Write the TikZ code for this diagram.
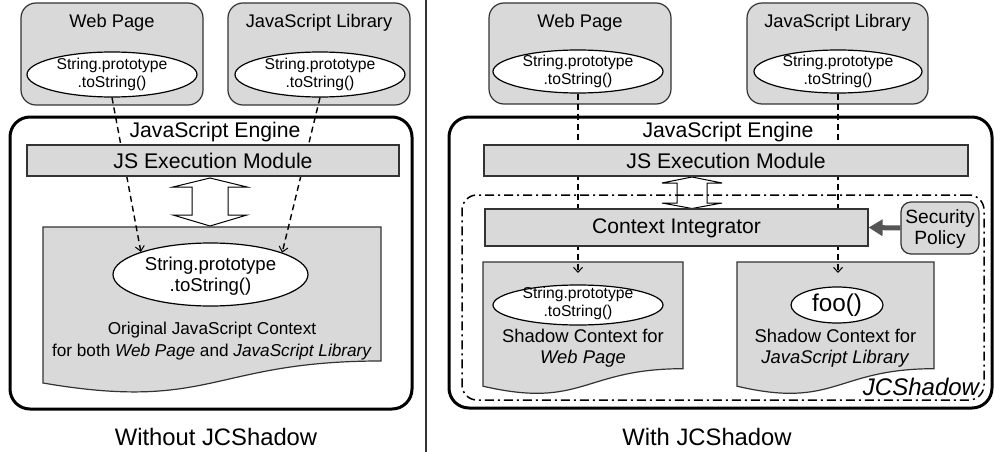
\documentclass[tikz,border=0pt]{standalone}
\usepackage{fontspec}
\setmainfont{Liberation Sans}
\usetikzlibrary{shapes.geometric,arrows.meta}
\definecolor{boxgray}{HTML}{D9D9D9}
\definecolor{edgec}{HTML}{333333}
\definecolor{heavyc}{HTML}{555555}
\begin{document}
\begin{tikzpicture}[x=1pt,y=-1pt,
  box/.style={draw=edgec, line width=1.2pt, fill=boxgray, rounded corners=15pt, inner sep=0pt},
  bar/.style={draw=edgec, line width=1.2pt, fill=boxgray, inner sep=0pt},
  ell/.style={ellipse, draw=black, line width=1.2pt, fill=white, inner sep=0pt},
  engine/.style={draw=black, line width=3pt, rounded corners=20pt, inner sep=0pt},
  docshape/.style={draw=edgec, line width=1.2pt, fill=boxgray},
  dblarrow/.style={draw=black, line width=1pt},
  dashconn/.style={draw=black, line width=1.4pt, dash pattern=on 6pt off 4pt},
  dashtip/.style={-{Straight Barb[length=5pt,width=9pt,line width=1pt]}},
  jcsbox/.style={draw=black, line width=1.5pt, dash pattern=on 9pt off 4pt on 2pt off 4pt, rounded corners=15pt, inner sep=0pt},
  txt/.style={inner sep=0pt, align=center, text=black},
  fTitle/.style={font=\fontsize{18.3}{21}\selectfont},
  fEngine/.style={font=\fontsize{21.2}{24}\selectfont},
  fModule/.style={font=\fontsize{21.2}{24}\selectfont},
  fEll/.style={font=\fontsize{15.7}{18}\selectfont},
  fBigEll/.style={font=\fontsize{18.6}{21}\selectfont},
  fCtx/.style={font=\fontsize{17.2}{22}\selectfont},
  fShadow/.style={font=\fontsize{18.4}{21}\selectfont},
  fSec/.style={font=\fontsize{19.2}{21}\selectfont},
  fCap/.style={font=\fontsize{23.8}{27}\selectfont},
]
\useasboundingbox (0,0) rectangle (994,452);

% ---------------- divider ----------------
\coordinate (divtop) at (426,0);
\coordinate (divbot) at (426,452);
\draw[edgec, line width=1.2pt] (divtop) -- (divbot);

% ================= LEFT PANEL =================
\node[box, minimum width=182pt, minimum height=102pt] (wp1) at (112,54) {};
\node[txt, fTitle] (wp1t) at (112,23) {Web Page};
\node[box, minimum width=182pt, minimum height=102pt] (jl1) at (319,54) {};
\node[txt, fTitle] (jl1t) at (319,23) {JavaScript Library};
\node[ell, minimum width=170pt, minimum height=45pt] (wp1e) at (112,74.5) {};
\node[txt, fEll] (wp1et) at (112,74.5) {String.prototype\\.toString()};
\node[ell, minimum width=170pt, minimum height=45pt] (jl1e) at (320,74.5) {};
\node[txt, fEll] (jl1et) at (320,74.5) {String.prototype\\.toString()};

\node[engine, minimum width=402pt, minimum height=292pt] (eng1) at (211,263) {};
\node[txt, fEngine] (eng1t) at (215,132) {JavaScript Engine};

\draw[dblarrow] (210,178) -- (247,187) -- (228,187) -- (228,215) -- (247,215) -- (210,226)
  -- (173,215) -- (192,215) -- (192,187) -- (173,187) -- cycle;

\draw[docshape] (43,227) -- (381,227) -- (381,361) .. controls (212,361) and (212,412) .. (43,383) -- cycle;
\node[ell, minimum width=195pt, minimum height=63pt] (bigell) at (210.5,274.5) {};
\node[txt, fBigEll] (bigellt) at (210.5,276) {String.prototype\\.toString()};
\node[txt, fCtx] (orig) at (212,341) {Original JavaScript Context\\for both \textit{Web Page} and \textit{JavaScript Library}};

\draw[dashconn, dashtip] (wp1e.south) -- (bigell.162);
\draw[dashconn, dashtip] (jl1e.south) -- (bigell.17);

\node[bar, minimum width=372pt, minimum height=31pt] (exec1) at (213,160.5) {};
\node[txt, fModule] (exec1t) at (213,161) {JS Execution Module};

\node[txt, fCap] (cap1) at (216,437) {Without JCShadow};

% ================= RIGHT PANEL =================
\node[box, minimum width=182pt, minimum height=101pt] (wp2) at (580,53.5) {};
\node[txt, fTitle] (wp2t) at (580,23) {Web Page};
\node[box, minimum width=181pt, minimum height=101pt] (jl2) at (837.5,53.5) {};
\node[txt, fTitle] (jl2t) at (837.5,23) {JavaScript Library};
\node[ell, minimum width=170pt, minimum height=43pt] (wp2e) at (578,71.5) {};
\node[txt, fEll] (wp2et) at (578,71.5) {String.prototype\\.toString()};
\node[ell, minimum width=168pt, minimum height=43pt] (jl2e) at (838,71.5) {};
\node[txt, fEll] (jl2et) at (838,71.5) {String.prototype\\.toString()};

\node[engine, minimum width=543pt, minimum height=291pt] (eng2) at (720.5,262.5) {};
\node[txt, fEngine] (eng2t) at (728,132) {JavaScript Engine};

\draw[dblarrow] (692,177) -- (722,183) -- (707,183) -- (707,203) -- (722,203) -- (692,208.5)
  -- (662,203) -- (677,203) -- (677,183) -- (662,183) -- cycle;

\node[jcsbox, minimum width=522pt, minimum height=205pt] (jcs) at (723,297.5) {};

\draw[docshape] (483,262) -- (683,262) -- (683,368.7) .. controls (583,368.7) and (583,409.3) .. (483,386.2) -- cycle;
\draw[docshape] (737,262) -- (934,262) -- (934,368.7) .. controls (835.5,368.7) and (835.5,409.3) .. (737,386.2) -- cycle;

\node[ell, minimum width=170pt, minimum height=40pt] (sell) at (578,305) {};
\node[txt, fEll] (sellt) at (578,303) {String.prototype\\.toString()};
\node[ell, minimum width=92pt, minimum height=36pt] (fooe) at (837,305) {};
\node[txt, font=\fontsize{24.3}{27}\selectfont] (fooet) at (837,305) {foo()};

\node[txt, fShadow] (shw) at (583,348.5) {Shadow Context for\\\textit{Web Page}};
\node[txt, fShadow] (shj) at (835.5,348.5) {Shadow Context for\\\textit{JavaScript Library}};
\node[txt, font=\fontsize{24}{27}\selectfont\itshape] (jcst) at (921,387) {JCShadow};

\coordinate (tipw) at (578,273);
\coordinate (tipj) at (838,273);
\draw[dashconn, dashtip] (wp2e.south) -- (tipw);
\draw[dashconn, dashtip] (jl2e.south) -- (tipj);

\node[bar, minimum width=484pt, minimum height=31pt] (exec2) at (726,160.5) {};
\node[txt, fModule] (exec2t) at (726,161) {JS Execution Module};
\node[bar, minimum width=383pt, minimum height=37pt] (ci) at (676.5,227.5) {};
\node[txt, font=\fontsize{21.1}{24}\selectfont] (cit) at (676.5,228.5) {Context Integrator};

\node[box, rounded corners=10pt, minimum width=78pt, minimum height=52pt] (sec) at (940,228) {};
\node[txt, fSec] (sect) at (940,229) {Security\\Policy};
\draw[heavyc, line width=5pt, -{Triangle[length=14pt,width=16pt]}] (sec.west) -- (ci.east);

\node[txt, fCap] (cap2) at (707,437) {With JCShadow};
\end{tikzpicture}
\end{document}
